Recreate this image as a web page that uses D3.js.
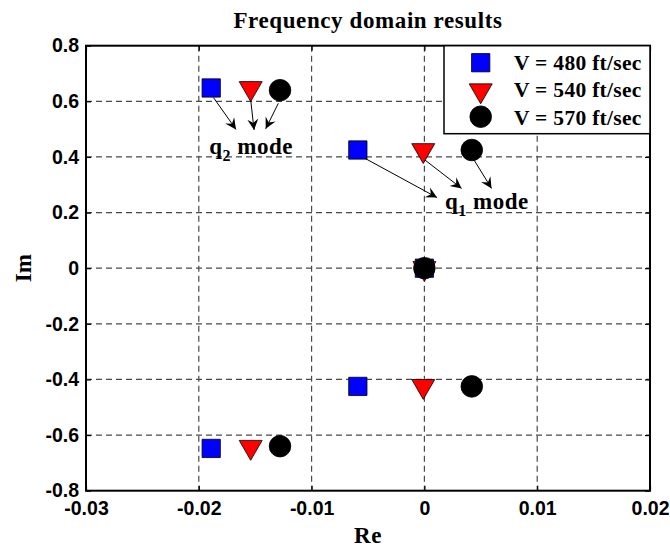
<!DOCTYPE html>
<html>
<head>
<meta charset="utf-8">
<script src="https://cdn.jsdelivr.net/npm/d3@7"></script>
<style>
  body { margin: 0; background: #fff; }
  svg { display: block; }
</style>
</head>
<body>
<svg id="chart" width="670" height="547"></svg>
<script>
// ---- data ----
const seriesLabels = ["V = 480 ft/sec", "V = 540 ft/sec", "V = 570 ft/sec"];
const re480 = [-0.0189, -0.0059, 0, -0.0059, -0.0189];
const im480 = [0.648, 0.425, 0, -0.425, -0.648];
const re540 = [-0.0154, -0.0001, 0, -0.0001, -0.0154];
const im540 = [0.647, 0.424, 0, -0.424, -0.643];
const re570 = [-0.0128, 0.0042, 0, 0.0042, -0.0128];
const im570 = [0.640, 0.425, 0, -0.425, -0.640];
const xTicks = [-0.03, -0.02, -0.01, 0, 0.01, 0.02];
const yTicks = [-0.8, -0.6, -0.4, -0.2, 0, 0.2, 0.4, 0.6, 0.8];
const xTickLabels = ["-0.03", "-0.02", "-0.01", "0", "0.01", "0.02"];
const yTickLabels = ["-0.8", "-0.6", "-0.4", "-0.2", "0", "0.2", "0.4", "0.6", "0.8"];
// annotation arrows in data coords [x0, y0, x1, y1]
const q2Arrows = [[-0.01871, 0.614, -0.0167, 0.499], [-0.0154, 0.605, -0.0151, 0.497], [-0.01295, 0.593, -0.01407, 0.501]];
const q1Arrows = [[-0.00527, 0.395, 0.00112, 0.254], [0.00005, 0.389, 0.0033, 0.287], [0.0044, 0.389, 0.00595, 0.287]];
const q2Label = [-0.01907, 0.412];
const q1Label = [0.00183, 0.212];

// ---- layout ----
const W = 670, H = 547;
const m = { left: 86, right: 20, top: 45.7, bottom: 56.3 };
const pw = W - m.left - m.right, ph = H - m.top - m.bottom;
const svg = d3.select("#chart");
const g = svg.append("g").attr("transform", `translate(${m.left},${m.top})`);

const x = d3.scaleLinear().domain([-0.03, 0.02]).range([0, pw]);
const y = d3.scaleLinear().domain([-0.8, 0.8]).range([ph, 0]);

const serif = "'Liberation Serif', 'Times New Roman', serif";
const sans = "'Liberation Sans', Arial, sans-serif";

// grid
const gridColor = "#4a4a4a";
g.append("g").selectAll("line").data(xTicks.slice(1, -1)).join("line")
  .attr("x1", d => x(d)).attr("x2", d => x(d)).attr("y1", 0).attr("y2", ph)
  .attr("stroke", gridColor).attr("stroke-width", 1.2).attr("stroke-dasharray", "6,4");
g.append("g").selectAll("line").data(yTicks.slice(1, -1)).join("line")
  .attr("y1", d => y(d)).attr("y2", d => y(d)).attr("x1", 0).attr("x2", pw)
  .attr("stroke", gridColor).attr("stroke-width", 1.2).attr("stroke-dasharray", "6,4");

// axes
function styleAxis(sel, showLabels) {
  sel.select(".domain").remove();
  sel.selectAll(".tick line").attr("stroke", "#000").attr("stroke-width", 1.2);
  sel.selectAll(".tick text").attr("fill", "#000")
    .style("font-family", sans).style("font-weight", "bold").style("font-size", "19.5px");
  if (!showLabels) sel.selectAll(".tick text").remove();
}
const xb = g.append("g").attr("transform", `translate(0,${ph})`)
  .call(d3.axisBottom(x).tickValues(xTicks).tickSize(-5).tickPadding(9).tickFormat((d, i) => xTickLabels[i]));
styleAxis(xb, true);
xb.selectAll(".tick text").attr("dy", "0.8em");
const xt = g.append("g").call(d3.axisTop(x).tickValues(xTicks).tickSize(-5));
styleAxis(xt, false);
const yl = g.append("g").call(d3.axisLeft(y).tickValues(yTicks).tickSize(-5).tickPadding(7).tickFormat((d, i) => yTickLabels[i]));
styleAxis(yl, true);
const yr = g.append("g").attr("transform", `translate(${pw},0)`).call(d3.axisRight(y).tickValues(yTicks).tickSize(-5));
styleAxis(yr, false);

g.append("rect").attr("x", 0).attr("y", 0).attr("width", pw).attr("height", ph)
  .attr("fill", "none").attr("stroke", "#000").attr("stroke-width", 2);

// markers
const symSquare = d3.symbol().type(d3.symbolSquare).size(335);
const symTri = d3.symbol().type(d3.symbolTriangle).size(229);
const symCirc = d3.symbol().type(d3.symbolCircle).size(366);
const series = [
  { re: re480, im: im480, sym: symSquare, fill: "#0000ff", rot: 0 },
  { re: re540, im: im540, sym: symTri, fill: "#ff0000", rot: 180 },
  { re: re570, im: im570, sym: symCirc, fill: "#000000", rot: 0 },
];
series.forEach(s => {
  g.append("g").selectAll("path").data(s.re.map((r, i) => [r, s.im[i]])).join("path")
    .attr("d", s.sym())
    .attr("transform", d => `translate(${x(d[0])},${y(d[1])}) rotate(${s.rot})`)
    .attr("fill", s.fill).attr("stroke", "#000").attr("stroke-width", 0.8);
});

// arrows
svg.append("defs").append("marker").attr("id", "ah")
  .attr("viewBox", "-12 -6 14 12").attr("refX", 0).attr("refY", 0)
  .attr("markerWidth", 14).attr("markerHeight", 12).attr("markerUnits", "userSpaceOnUse")
  .attr("orient", "auto")
  .append("path").attr("d", "M0,0 L-11,-5.5 L-7,0 L-11,5.5 Z").attr("fill", "#000");
g.append("g").selectAll("line").data(q2Arrows.concat(q1Arrows)).join("line")
  .attr("x1", d => x(d[0])).attr("y1", d => y(d[1]))
  .attr("x2", d => x(d[2])).attr("y2", d => y(d[3]))
  .attr("stroke", "#000").attr("stroke-width", 1).attr("marker-end", "url(#ah)");

function modeLabel(pos, sub) {
  const t = g.append("text").attr("x", x(pos[0])).attr("y", y(pos[1]))
    .style("font-family", serif).style("font-weight", "bold").style("font-size", "23px")
    .style("letter-spacing", "0.5px").attr("fill", "#000");
  t.append("tspan").text("q");
  t.append("tspan").attr("dy", 7).style("font-size", "16px").text(sub);
  t.append("tspan").attr("dy", -7).text(" mode");
}
modeLabel(q2Label, "2");
modeLabel(q1Label, "1");

// legend
const lg = svg.append("g");
const lx0 = 444, ly0 = m.top, lw = m.left + pw - 444, lh = 88;
lg.append("rect").attr("x", lx0).attr("y", ly0).attr("width", lw).attr("height", lh)
  .attr("fill", "#fff").attr("stroke", "#000").attr("stroke-width", 1.5);
const rowY = [62.7, 90.5, 116.7];
series.forEach((s, i) => {
  lg.append("path").attr("d", s.sym())
    .attr("transform", `translate(480.7,${rowY[i]}) rotate(${s.rot})`)
    .attr("fill", s.fill).attr("stroke", "#000").attr("stroke-width", 0.8);
  lg.append("text").attr("x", 514).attr("y", [69.8, 97.2, 125][i])
    .style("font-family", serif).style("font-weight", "bold").style("font-size", "21.5px")
    .style("letter-spacing", "0.3px")
    .text(seriesLabels[i]);
});

// titles
svg.append("text").attr("x", m.left + pw / 2).attr("y", 28).attr("text-anchor", "middle")
  .style("font-family", serif).style("font-weight", "bold").style("font-size", "23px")
  .style("letter-spacing", "0.6px")
  .text("Frequency domain results");
svg.append("text").attr("x", m.left + pw / 2).attr("y", 543).attr("text-anchor", "middle")
  .style("font-family", serif).style("font-weight", "bold").style("font-size", "23px")
  .style("letter-spacing", "0.5px")
  .text("Re");
svg.append("text").attr("transform", `translate(31,${m.top + ph / 2}) rotate(-90)`).attr("text-anchor", "middle")
  .style("font-family", serif).style("font-weight", "bold").style("font-size", "23px")
  .text("Im");
</script>
</body>
</html>
